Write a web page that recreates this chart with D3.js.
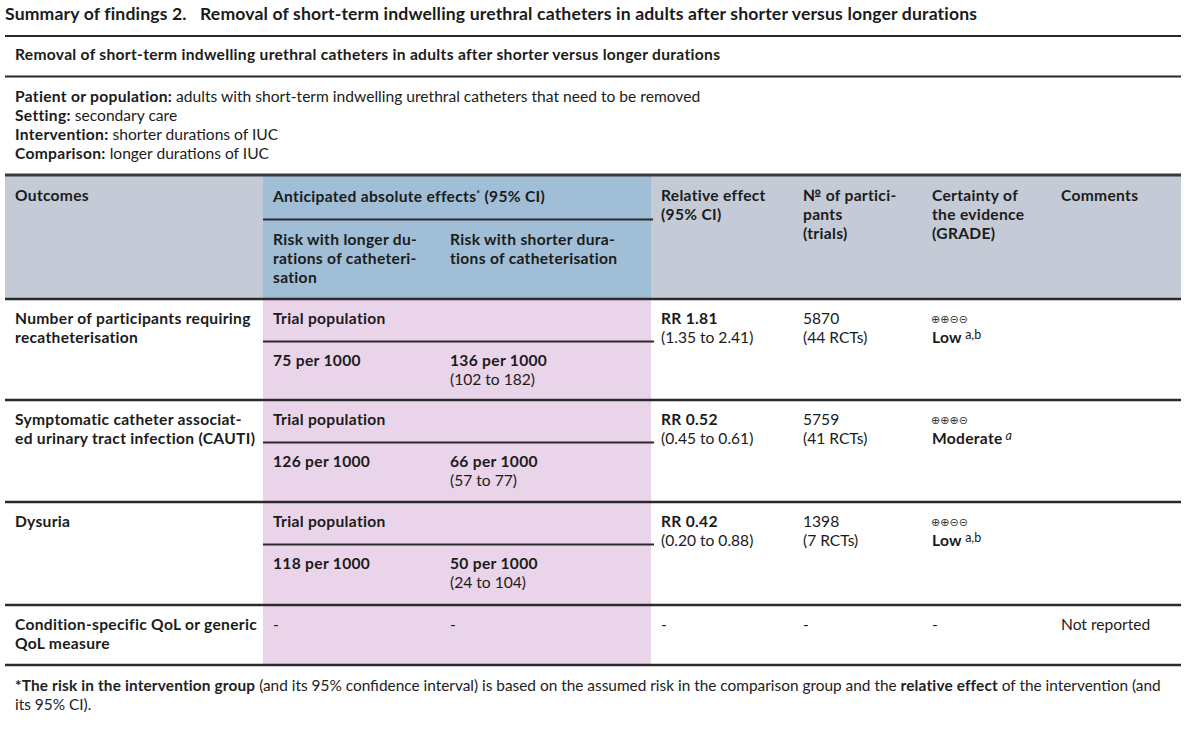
<!DOCTYPE html>
<html>
<head>
<meta charset="utf-8">
<script src="https://cdn.jsdelivr.net/npm/d3@7"></script>
<style>
   body { margin: 0; background: #fff; }
   svg { display: block; font-family: Lato, "Noto Sans", sans-serif; }
</style>
</head>
<body>
<svg width="1200" height="730"></svg>
<script>
// DATA
var tableTitle = "Summary of findings 2.\u00a0\u00a0\u00a0Removal of short-term indwelling urethral catheters in adults after shorter versus longer durations";
var tableSubtitle = "Removal of short-term indwelling urethral catheters in adults after shorter versus longer durations";
var pico = [
   ["Patient or population:", " adults with short-term indwelling urethral catheters that need to be removed"],
   ["Setting:", " secondary care"],
   ["Intervention:", " shorter durations of IUC"],
   ["Comparison:", " longer durations of IUC"]
];
var outcomeLines = [
   ["Number of participants requiring", "recatheterisation"],
   ["Symptomatic catheter associat-", "ed urinary tract infection (CAUTI)"],
   ["Dysuria"],
   ["Condition-specific QoL or generic", "QoL measure"]
];
var populationLabel = ["Trial population", "Trial population", "Trial population", ""];
var riskLonger = ["75 per 1000", "126 per 1000", "118 per 1000", "-"];
var riskShorter = ["136 per 1000", "66 per 1000", "50 per 1000", "-"];
var riskShorterCI = ["(102 to 182)", "(57 to 77)", "(24 to 104)", ""];
var relativeEffect = ["RR 1.81", "RR 0.52", "RR 0.42", "-"];
var relativeCI = ["(1.35 to 2.41)", "(0.45 to 0.61)", "(0.20 to 0.88)", ""];
var participants = ["5870", "5759", "1398", "-"];
var trials = ["(44 RCTs)", "(41 RCTs)", "(7 RCTs)", ""];
var gradeSymbols = ["\u2295\u2295\u229d\u229d", "\u2295\u2295\u2295\u229d", "\u2295\u2295\u229d\u229d", "-"];
var gradeLabels = ["Low", "Moderate", "Low", ""];
var gradeNotes = ["a,b", "a", "a,b", ""];
var comments = ["", "", "", "Not reported"];
var headerLabels = {
   outcome: ["Outcomes"],
   longer: ["Risk with longer du-", "rations of catheteri-", "sation"],
   shorter: ["Risk with shorter dura-", "tions of catheterisation"],
   relative: ["Relative effect", "(95% CI)"],
   participants: ["\u2116 of partici-", "pants", "(trials)"],
   grade: ["Certainty of", "the evidence", "(GRADE)"],
   comments: ["Comments"]
};
var footnote = [
   [["*", true], ["The risk in the intervention group", true], [" (and its 95% confidence interval) is based on the assumed risk in the comparison group and the ", false], ["relative effect", true], [" of the intervention (and", false]],
   [["its 95% CI).", false]]
];

// LAYOUT
var svg = d3.select("svg");
var ink = "#1b1b1b", rule = "#2a2a2a";
var colours = {grey: "#c4cbd7", blue: "#a0bed6", pink: "#ead4ea"};
var fs = 15.6, lh = 19, boldSpacing = 0.3;
var tableLeft = 5, tableRight = 1181;

var columnKeys = ["outcome", "longer", "shorter", "relative", "participants", "grade", "comments"];
var colEdge = d3.scaleOrdinal().domain(columnKeys.concat(["end"]))
   .range([tableLeft, 263, 440, 651, 793, 922, 1051, tableRight]);
var textX = function (key) { return colEdge(key) + 10; };

var rowHeights = [101, 102, 103, 60];
var bodyTop = 299;
var rowTops = [bodyTop].concat(Array.from(d3.cumsum(rowHeights), function (h) { return bodyTop + h; }));
var rowY = d3.scaleOrdinal().domain(d3.range(rowTops.length)).range(rowTops);

function hline(x1, x2, y, w, c) {
   svg.append("line").attr("x1", x1).attr("x2", x2).attr("y1", y).attr("y2", y)
      .attr("stroke", c || rule).attr("stroke-width", w || 2);
}
function textLines(x, y, lines, opts) {
   opts = opts || {};
   var t = svg.append("text").attr("x", x).attr("y", y)
      .attr("font-size", opts.size || fs)
      .attr("font-weight", opts.bold ? 700 : 400)
      .attr("letter-spacing", opts.bold ? (opts.spacing != null ? opts.spacing : boldSpacing) : 0)
      .attr("fill", ink);
   lines.forEach(function (l, i) {
      t.append("tspan").attr("x", x).attr("dy", i ? (opts.lh || lh) : 0).text(l);
   });
   return t;
}
function boldSpan(t, text, spacing) {
   return t.append("tspan").attr("font-weight", 700)
      .attr("letter-spacing", spacing != null ? spacing : boldSpacing).text(text);
}
function plainSpan(t, text) {
   return t.append("tspan").attr("font-weight", 400).attr("letter-spacing", 0).text(text);
}

// title block
textLines(tableLeft, 20, [tableTitle], {bold: true, size: 17.6, spacing: 0.15});
hline(tableLeft, tableRight, 36);
textLines(15, 60, [tableSubtitle], {bold: true});
hline(tableLeft, tableRight, 76.5);
pico.forEach(function (p, i) {
   var t = svg.append("text").attr("x", 15).attr("y", 102 + i * lh).attr("font-size", fs).attr("fill", ink);
   boldSpan(t, p[0]);
   plainSpan(t, p[1]);
});

// header backgrounds
var headTop = 175;
svg.append("rect").attr("x", tableLeft).attr("y", headTop).attr("width", colEdge("longer") - tableLeft)
   .attr("height", bodyTop - headTop).attr("fill", colours.grey);
svg.append("rect").attr("x", colEdge("longer")).attr("y", headTop).attr("width", colEdge("relative") - colEdge("longer"))
   .attr("height", bodyTop - headTop).attr("fill", colours.blue);
svg.append("rect").attr("x", colEdge("relative")).attr("y", headTop).attr("width", tableRight - colEdge("relative"))
   .attr("height", bodyTop - headTop).attr("fill", colours.grey);

// pink body columns
svg.append("rect").attr("x", colEdge("longer")).attr("y", bodyTop)
   .attr("width", colEdge("relative") - colEdge("longer"))
   .attr("height", rowY(rowHeights.length) - bodyTop).attr("fill", colours.pink);

// header text
var anticipated = svg.append("text").attr("x", textX("longer")).attr("y", 202)
   .attr("font-size", fs).attr("fill", ink);
boldSpan(anticipated, "Anticipated absolute effects");
boldSpan(anticipated, "*").attr("font-size", 9).attr("dy", -5);
boldSpan(anticipated, " (95% CI)").attr("dy", 5);
hline(colEdge("longer"), colEdge("relative") + 2, 219.5, 2);

["outcome", "relative", "participants", "grade", "comments"].forEach(function (k) {
   textLines(textX(k), 201, headerLabels[k], {bold: true});
});
["longer", "shorter"].forEach(function (k) {
   textLines(textX(k), 245, headerLabels[k], {bold: true});
});
hline(tableLeft, tableRight, headTop, 3, "#3b3b3b");
hline(tableLeft, tableRight, bodyTop, 2.5);

// body rows
outcomeLines.forEach(function (lines, i) {
   var top = rowY(i);
   var y1 = top + 25;
   textLines(textX("outcome"), y1, lines, {bold: true});

   if (populationLabel[i]) {
      textLines(textX("longer"), y1, [populationLabel[i]], {bold: true});
      hline(colEdge("longer"), colEdge("relative") + 3, top + 42.5, 2);
      textLines(textX("longer"), top + 67, [riskLonger[i]], {bold: true});
      var s = textLines(textX("shorter"), top + 67, [riskShorter[i]], {bold: true});
      plainSpan(s, riskShorterCI[i]).attr("x", textX("shorter")).attr("dy", lh);
   } else {
      textLines(textX("longer"), y1, [riskLonger[i]]);
      textLines(textX("shorter"), y1, [riskShorter[i]]);
   }

   var r = textLines(textX("relative"), y1, [relativeEffect[i]], {bold: relativeCI[i] !== ""});
   if (relativeCI[i]) plainSpan(r, relativeCI[i]).attr("x", textX("relative")).attr("dy", lh);

   textLines(textX("participants"), y1, trials[i] ? [participants[i], trials[i]] : [participants[i]]);

   if (gradeLabels[i]) {
      svg.append("text").attr("x", textX("grade") - 1).attr("y", y1 - 1)
         .attr("font-family", "DejaVu Sans").attr("font-size", 11).attr("fill", "#333")
         .text(gradeSymbols[i]);
      var g = svg.append("text").attr("x", textX("grade")).attr("y", y1 + lh)
         .attr("font-size", fs).attr("fill", ink);
      boldSpan(g, gradeLabels[i]);
      plainSpan(g, " " + gradeNotes[i]).attr("font-size", 12.5).attr("dy", -4)
         .attr("font-style", gradeNotes[i] === "a" ? "italic" : "normal");
   } else {
      textLines(textX("grade"), y1, [gradeSymbols[i]]);
   }

   if (comments[i]) textLines(textX("comments"), y1, [comments[i]]);

   hline(tableLeft, tableRight, rowY(i + 1), 2.5);
});

// footnote
footnote.forEach(function (line, i) {
   var t = svg.append("text").attr("x", 15).attr("y", 691 + i * 18.5).attr("font-size", 15.4).attr("fill", "#222");
   line.forEach(function (seg) {
      if (seg[1]) boldSpan(t, seg[0], 0.15); else plainSpan(t, seg[0]);
   });
});
</script>
</body>
</html>
